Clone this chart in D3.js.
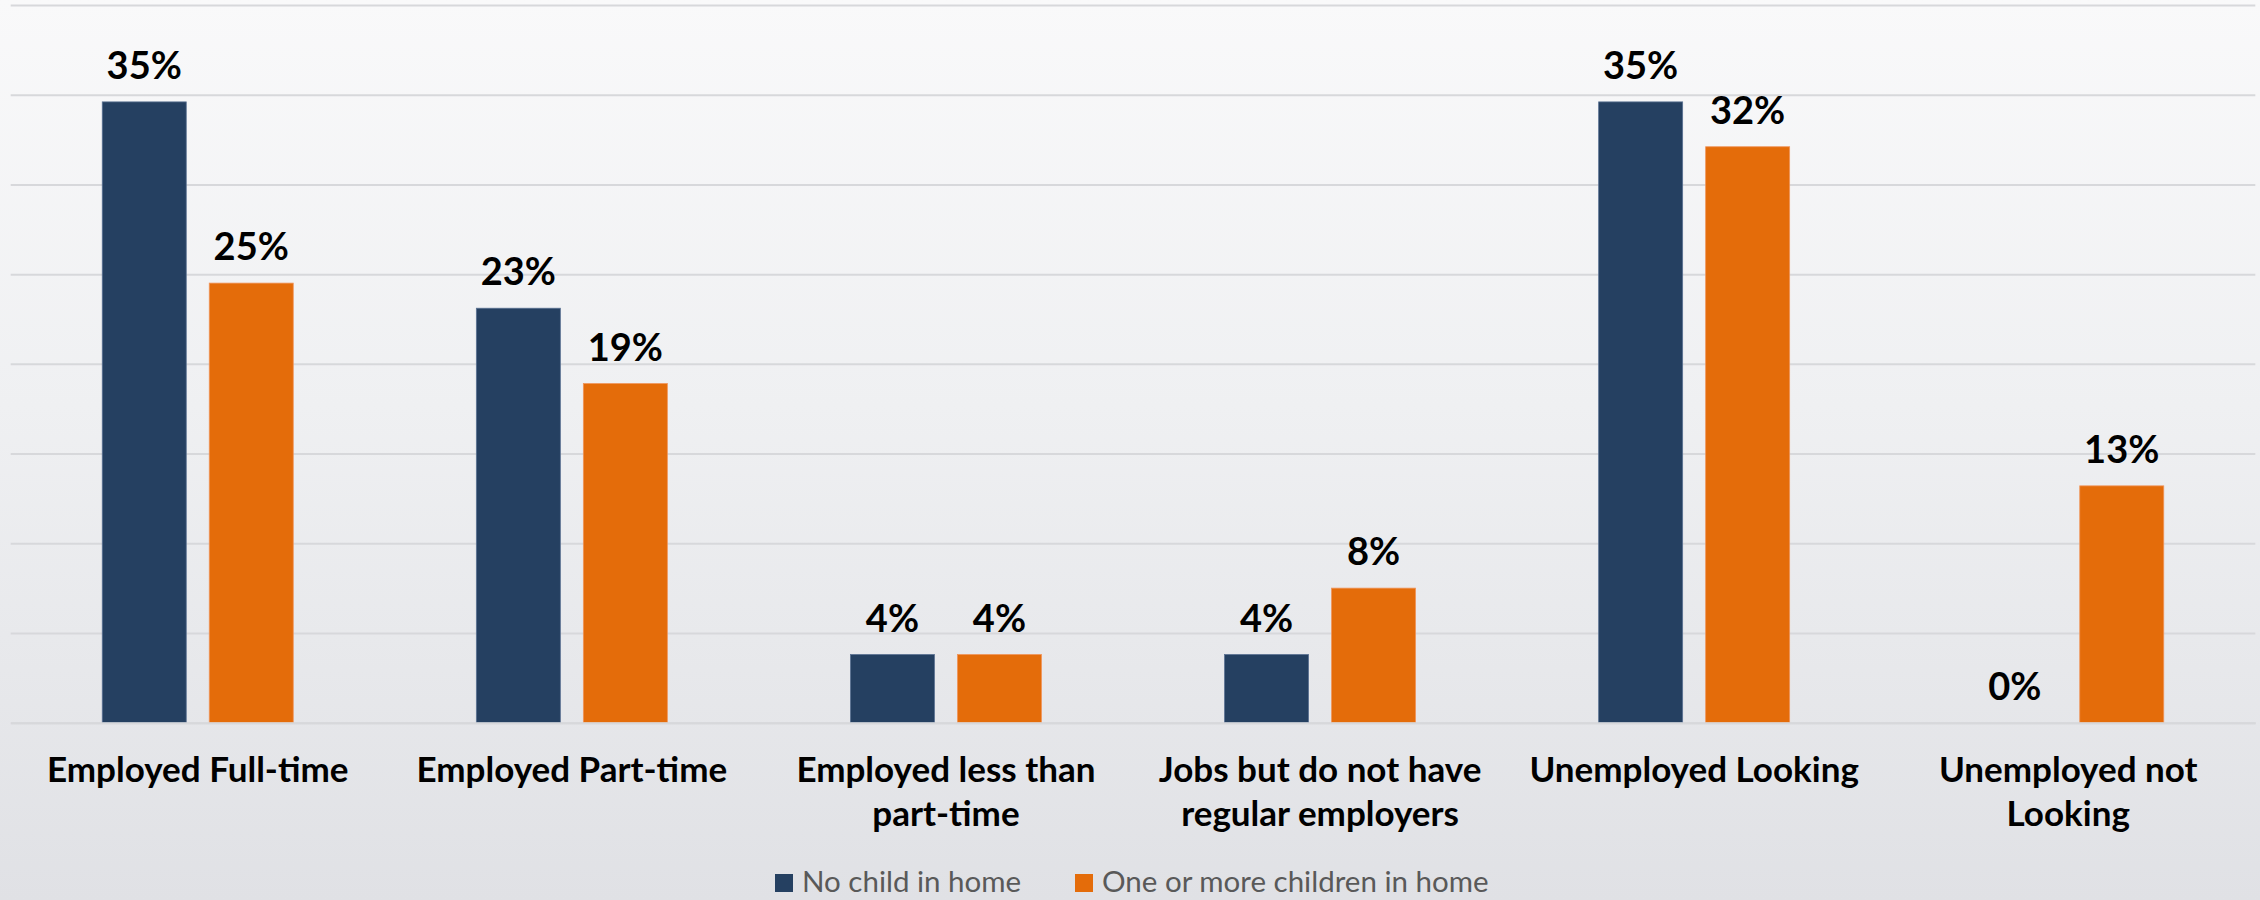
<!DOCTYPE html>
<html>
<head>
<meta charset="utf-8">
<script src="https://cdn.jsdelivr.net/npm/d3@7"></script>
<style>
  html, body { margin: 0; padding: 0; }
  body { width: 2260px; height: 900px; overflow: hidden; }
  svg { display: block; }
</style>
</head>
<body>
<svg id="chart" width="2260" height="900"></svg>
<script>
// ---- data ----
const categories = [
  ["Employed Full-time"],
  ["Employed Part-time"],
  ["Employed less than", "part-time"],
  ["Jobs but do not have", "regular employers"],
  ["Unemployed Looking"],
  ["Unemployed not", "Looking"]
];
const seriesNames = ["No child in home", "One or more children in home"];
const noChild = [34.6, 23.1, 3.8, 3.8, 34.6, 0];
const withChildren = [24.5, 18.9, 3.8, 7.5, 32.1, 13.2];
const yTicks = [0, 5, 10, 15, 20, 25, 30, 35, 40];
const colors = ["#254061", "#E46C0A"];
const borders = ["#5a7192", "#f0945a"];

// ---- layout ----
const W = 2260, H = 900;
const plotLeft = 10.7, plotRight = 2255.3, plotTop = 5, plotBottom = 722.7;
const svg = d3.select("#chart");

const defs = svg.append("defs");
const grad = defs.append("linearGradient").attr("id", "bg").attr("x1", 0).attr("y1", 0).attr("x2", 0).attr("y2", 1);
grad.append("stop").attr("offset", "0%").attr("stop-color", "#f9f9fa");
grad.append("stop").attr("offset", "45%").attr("stop-color", "#eff0f2");
grad.append("stop").attr("offset", "100%").attr("stop-color", "#e0e1e5");
svg.append("rect").attr("width", W).attr("height", H).attr("fill", "url(#bg)");

const idx = d3.range(categories.length);
const x0 = d3.scaleBand().domain(idx).range([plotLeft, plotRight]).paddingInner(0).paddingOuter(0);
const x1 = d3.scaleBand().domain([0, 1]).range([0, x0.bandwidth()]).paddingInner(0.215).paddingOuter(0.8556);
const y = d3.scaleLinear().domain([0, 40]).range([plotBottom, plotTop]);

// gridlines
const grid = d3.axisLeft(y).tickValues(yTicks).tickSize(-(plotRight - plotLeft)).tickFormat("");
const g = svg.append("g").attr("transform", `translate(${plotLeft},0)`).call(grid);
g.select(".domain").remove();
g.selectAll(".tick line").attr("stroke", "#d7d8db").attr("stroke-width", 2);

const data = idx.map(i => [noChild[i], withChildren[i]]);

const groups = svg.append("g").selectAll("g").data(data).join("g")
  .attr("transform", (d, i) => `translate(${x0(i)},0)`);

groups.selectAll("rect").data(d => d.map((v, s) => ({v, s}))).join("rect")
  .attr("x", d => x1(d.s))
  .attr("width", x1.bandwidth())
  .attr("y", d => y(d.v))
  .attr("height", d => y(0) - y(d.v))
  .attr("fill", d => colors[d.s])
  .attr("stroke", d => d.v > 0 ? borders[d.s] : "none")
  .attr("stroke-width", 0.8);

groups.selectAll("text.val").data(d => d.map((v, s) => ({v, s}))).join("text")
  .attr("class", "val")
  .attr("x", d => x1(d.s) + x1.bandwidth() / 2)
  .attr("y", d => y(d.v) - 23)
  .attr("text-anchor", "middle")
  .attr("font-family", "Lato, 'Open Sans', sans-serif")
  .attr("font-weight", "bold")
  .attr("font-size", 38)
  .attr("fill", "#000")
  .text(d => Math.round(d.v) + "%");

// category labels
const xAxis = d3.axisBottom(x0).tickSize(0).tickFormat("");
const xa = svg.append("g").attr("transform", `translate(0,${plotBottom})`).call(xAxis);
xa.select(".domain").attr("stroke", "#d7d8db").attr("stroke-width", 2);

const catG = svg.append("g").selectAll("text").data(categories).join("text")
  .attr("x", (d, i) => x0(i) + x0.bandwidth() / 2)
  .attr("y", 782)
  .attr("text-anchor", "middle")
  .attr("font-family", "Lato, 'Open Sans', sans-serif")
  .attr("font-weight", "bold")
  .attr("font-size", 35)
  .attr("fill", "#000");
catG.selectAll("tspan").data(d => d).join("tspan")
  .attr("x", function() { return d3.select(this.parentNode).attr("x"); })
  .attr("dy", (d, j) => j === 0 ? 0 : 44)
  .text(d => d);

// legend
const legendItems = [
  {name: seriesNames[0], color: colors[0], x: 775},
  {name: seriesNames[1], color: colors[1], x: 1075}
];
const lg = svg.append("g").selectAll("g").data(legendItems).join("g")
  .attr("transform", d => `translate(${d.x},874)`);
lg.append("rect").attr("width", 18).attr("height", 18).attr("fill", d => d.color);
lg.append("text").attr("x", 27).attr("y", 18)
  .attr("font-family", "Lato, 'Open Sans', sans-serif")
  .attr("font-size", 29.5)
  .attr("fill", "#595959")
  .text(d => d.name);
</script>
</body>
</html>
